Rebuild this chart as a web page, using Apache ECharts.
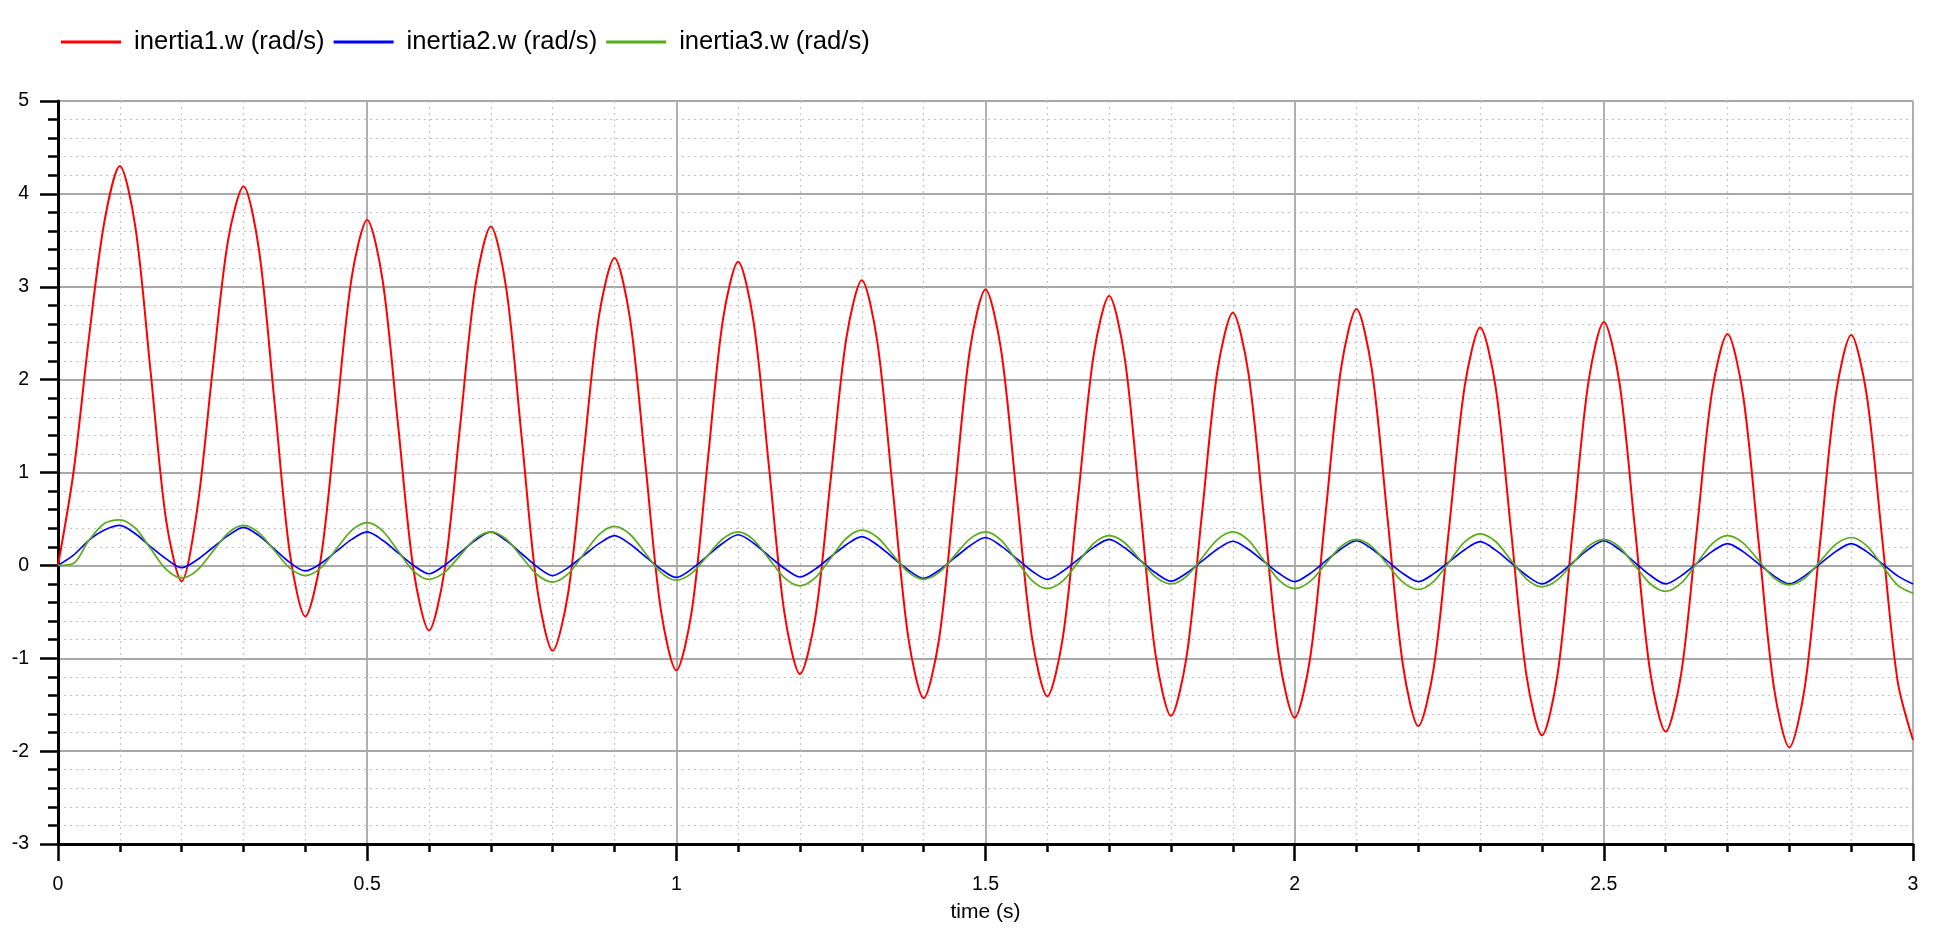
<!DOCTYPE html>
<html>
<head>
<meta charset="utf-8">
<script src="https://cdn.jsdelivr.net/npm/echarts@6/dist/echarts.min.js"></script>
<style>
html,body{margin:0;padding:0;background:#fff;}
#chart{width:1934px;height:928px;}
</style>
</head>
<body>
<div id="chart"></div>
<script>
var seriesNames = ['inertia1.w (rad/s)', 'inertia2.w (rad/s)', 'inertia3.w (rad/s)'];
var xTicks = [0, 0.5, 1, 1.5, 2, 2.5, 3];
var yTicks = [-3, -2, -1, 0, 1, 2, 3, 4, 5];

var time = [
0,0.025,0.05,0.075,0.1,0.125,0.15,0.175,0.2,0.225,0.25,0.275,0.3,0.325,0.35,0.375,0.4,0.425,0.45,0.475,
0.5,0.525,0.55,0.575,0.6,0.625,0.65,0.675,0.7,0.725,0.75,0.775,0.8,0.825,0.85,0.875,0.9,0.925,0.95,0.975,
1,1.025,1.05,1.075,1.1,1.125,1.15,1.175,1.2,1.225,1.25,1.275,1.3,1.325,1.35,1.375,1.4,1.425,1.45,1.475,
1.5,1.525,1.55,1.575,1.6,1.625,1.65,1.675,1.7,1.725,1.75,1.775,1.8,1.825,1.85,1.875,1.9,1.925,1.95,1.975,
2,2.025,2.05,2.075,2.1,2.125,2.15,2.175,2.2,2.225,2.25,2.275,2.3,2.325,2.35,2.375,2.4,2.425,2.45,2.475,
2.5,2.525,2.55,2.575,2.6,2.625,2.65,2.675,2.7,2.725,2.75,2.775,2.8,2.825,2.85,2.875,2.9,2.925,2.95,2.975,
3
];

var inertia1 = [
0,1.0,2.45,3.7,4.30,
3.65,2.07,0.48,-0.17,
0.6,2.1,3.5,4.08,
3.40,1.77,0.13,-0.55,
0.07,1.59,3.10,3.72,
3.07,1.51,-0.05,-0.70,
-0.06,1.48,3.01,3.65,
2.98,1.37,-0.25,-0.92,
-0.30,1.20,2.69,3.31,
2.66,1.09,-0.48,-1.13,
-0.49,1.07,2.63,3.27,
2.62,1.05,-0.52,-1.17,
-0.55,0.95,2.45,3.07,
2.41,0.82,-0.77,-1.43,
-0.79,0.77,2.33,2.97,
2.33,0.78,-0.77,-1.41,
-0.78,0.75,2.27,2.90,
2.24,0.64,-0.96,-1.62,
-0.99,0.55,2.09,2.72,
2.08,0.54,-1.00,-1.64,
-1.00,0.56,2.12,2.76,
2.10,0.52,-1.07,-1.73,
-1.10,0.42,1.93,2.56,
1.92,0.37,-1.19,-1.83,
-1.18,0.40,1.97,2.62,
1.98,0.42,-1.15,-1.79,
-1.17,0.35,1.87,2.49,
1.84,0.27,-1.31,-1.96,
-1.31,0.26,1.83,2.48,
1.84,0.30,-1.24,-1.88
];

var inertia2 = [
0,0.11,0.27,0.38,0.43,
0.34,0.20,0.07,-0.025,
0.06,0.19,0.32,0.41,
0.32,0.175,0.03,-0.06,
0.02,0.15,0.28,0.36,
0.27,0.135,0.0,-0.09,
0.0,0.135,0.27,0.36,
0.266,0.125,-0.016,-0.11,
-0.024,0.105,0.234,0.32,
0.23,0.095,-0.04,-0.13,
-0.038,0.10,0.238,0.33,
0.239,0.10,-0.034,-0.125,
-0.038,0.093,0.223,0.31,
0.22,0.085,-0.05,-0.14,
-0.052,0.08,0.212,0.30,
0.21,0.075,-0.06,-0.15,
-0.064,0.065,0.194,0.28,
0.19,0.055,-0.08,-0.17,
-0.084,0.045,0.174,0.26,
0.173,0.043,-0.088,-0.175,
-0.087,0.045,0.177,0.265,
0.177,0.045,-0.087,-0.175,
-0.089,0.04,0.169,0.255,
0.164,0.028,-0.109,-0.20,
-0.107,0.033,0.172,0.265,
0.172,0.033,-0.107,-0.20,
-0.113,0.018,0.148,0.235,
0.148,0.018,-0.113,-0.20,
-0.113,0.018,0.148,0.235,
0.148,0.018,-0.113,-0.20
];

var inertia3 = [
0,0.02,0.27,0.45,0.49,
0.40,0.178,-0.044,-0.135,
-0.053,0.148,0.348,0.43,
0.35,0.16,-0.03,-0.11,
-0.027,0.175,0.377,0.46,
0.371,0.155,-0.061,-0.15,
-0.076,0.105,0.286,0.36,
0.281,0.09,-0.101,-0.18,
-0.092,0.12,0.332,0.42,
0.335,0.13,-0.075,-0.16,
-0.084,0.10,0.284,0.36,
0.275,0.07,-0.135,-0.22,
-0.132,0.08,0.292,0.38,
0.303,0.115,-0.073,-0.15,
-0.076,0.105,0.286,0.36,
0.271,0.055,-0.161,-0.25,
-0.167,0.035,0.237,0.32,
0.244,0.06,-0.124,-0.20,
-0.118,0.08,0.278,0.36,
0.271,0.055,-0.161,-0.25,
-0.173,0.015,0.203,0.28,
0.201,0.01,-0.181,-0.26,
-0.172,0.04,0.252,0.34,
0.257,0.055,-0.147,-0.23,
-0.156,0.025,0.206,0.28,
0.198,0.0,-0.198,-0.28,
-0.192,0.02,0.232,0.32,
0.243,0.055,-0.133,-0.21,
-0.136,0.045,0.226,0.30,
0.212,0.0,-0.212,-0.30
];

var colors = ['#ff0000', '#0000ff', '#5aab1b'];
var widths = [2, 1.7, 1.7];

function pairs(vals) {
  return time.map(function (t, i) { return [t, vals[i]]; });
}
var allValues = [inertia1, inertia2, inertia3];

var chart = echarts.init(document.getElementById('chart'), null, {renderer: 'canvas'});
var font = 'Liberation Sans, Arial, Helvetica, sans-serif';

var option = {
  backgroundColor: '#ffffff',
  animation: false,
  color: colors,
  textStyle: {fontFamily: font},
  legend: {
    left: 56, top: 24,
    itemWidth: 60, itemHeight: 3, itemGap: 9,
    icon: 'rect',
    textStyle: {fontSize: 25.6, color: '#000', fontFamily: font, padding: [0, 0, 0, 8]},
    data: seriesNames
  },
  grid: {left: 58, right: 21, top: 101, bottom: 78, containLabel: false},
  xAxis: {
    type: 'value', min: xTicks[0], max: xTicks[xTicks.length - 1], interval: 0.5,
    name: 'time (s)', nameLocation: 'middle', nameGap: 58,
    nameTextStyle: {fontSize: 21, color: '#000', fontFamily: font},
    axisLine: {onZero: false, lineStyle: {color: '#000', width: 3}},
    axisTick: {show: true, inside: false, length: 17, lineStyle: {color: '#000', width: 2.5}},
    minorTick: {show: true, splitNumber: 5, length: 8, lineStyle: {color: '#000', width: 2.5}},
    axisLabel: {fontSize: 19.5, color: '#000', margin: 31, fontFamily: font,
      formatter: function (v) { return String(v); }},
    splitLine: {show: true, lineStyle: {color: '#a8a8a8', width: 1.8}},
    minorSplitLine: {show: true, lineStyle: {color: '#c4c4c4', width: 1.2, type: [2, 4]}}
  },
  yAxis: {
    type: 'value', min: yTicks[0], max: yTicks[yTicks.length - 1], interval: 1,
    axisLine: {onZero: false, lineStyle: {color: '#000', width: 3}},
    axisTick: {show: true, inside: false, length: 18, lineStyle: {color: '#000', width: 2.5}},
    minorTick: {show: true, splitNumber: 5, length: 10, lineStyle: {color: '#000', width: 2.5}},
    axisLabel: {fontSize: 19.5, color: '#000', margin: 29, fontFamily: font},
    splitLine: {show: true, lineStyle: {color: '#a8a8a8', width: 1.8}},
    minorSplitLine: {show: true, lineStyle: {color: '#c4c4c4', width: 1.2, type: [2, 4]}}
  },
  series: seriesNames.map(function (name, k) {
    return {
      name: name, type: 'line', data: pairs(allValues[k]),
      showSymbol: false, smooth: 0.3,
      lineStyle: {color: colors[k], width: widths[k]},
      itemStyle: {color: colors[k]}
    };
  })
};
chart.setOption(option);
</script>
</body>
</html>
